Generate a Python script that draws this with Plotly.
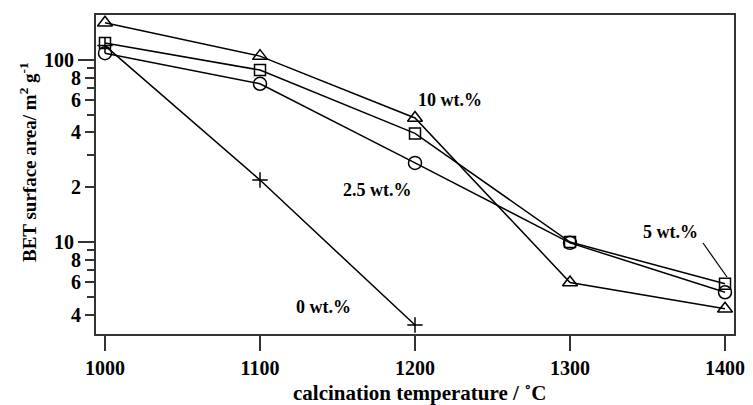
import plotly.graph_objects as go
import math

temps = [1000, 1100, 1200, 1300, 1400]
wt10 = [160, 105, 48, 6.0, 4.3]
wt5 = [124, 88, 39.5, 10.0, 5.9]
wt25 = [109, 74, 27.2, 9.9, 5.3]
temps0 = [1000, 1100, 1200]
wt0 = [120, 21.9, 3.5]

major_vals = [10, 100]
label_vals = [4, 6, 8, 20, 40, 60, 80]
label_text = ["4", "6", "8", "2", "4", "6", "8"]
minor_vals = [5, 7, 9, 30, 50, 70, 90]
x_ticks = [1000, 1100, 1200, 1300, 1400]

FONT = "Liberation Serif"
fig = go.Figure()

def add(x, y, sym, size, name):
    fig.add_trace(go.Scatter(
        x=x, y=y, mode="lines+markers", name=name,
        line=dict(color="black", width=1.5),
        marker=dict(symbol=sym, size=size, color="black",
                    line=dict(color="black", width=1.5)),
        showlegend=False))

add(temps, wt10, "triangle-up-open", 13, "10 wt.%")
add(temps, wt5, "square-open", 11, "5 wt.%")
add(temps, wt25, "circle-open", 13, "2.5 wt.%")
add(temps0, wt0, "cross-thin-open", 11, "0 wt.%")

# page has an 8px body margin; compensate
OFF = 8
FW, FH = 753 - OFF, 405 - OFF
L, R, T, B = 96 - OFF, 19, 15 - OFF, 71
PW = FW - L - R
PH = FH - T - B

yr = [0.495, 2.247]
tickfont = dict(family=FONT, size=20, color="black", weight="bold")

fig.update_layout(
    width=FW, height=FH,
    margin=dict(l=L, r=R, t=T, b=B, autoexpand=False),
    paper_bgcolor="white", plot_bgcolor="white",
    xaxis=dict(range=[994.2, 1405.8], tickvals=x_ticks,
               ticks="outside", ticklen=15, tickwidth=2, tickcolor="#333",
               showline=True, linecolor="#333", linewidth=2, mirror=True,
               showgrid=False, zeroline=False, tickfont=tickfont),
    yaxis=dict(type="log", range=yr, tickvals=major_vals,
               ticktext=["10", "100"],
               ticks="outside", ticklen=16, tickwidth=2, tickcolor="#333",
               showline=True, linecolor="#333", linewidth=2, mirror=True,
               showgrid=False, zeroline=False, tickfont=tickfont),
    yaxis2=dict(type="log", range=yr, overlaying="y", side="left",
                tickvals=label_vals, ticktext=label_text,
                ticks="outside", ticklen=10, tickwidth=2, tickcolor="#333",
                showline=False, showgrid=False, zeroline=False,
                tickfont=tickfont,
                minor=dict(tickvals=minor_vals, ticks="outside", ticklen=8,
                           tickwidth=2, tickcolor="#333", showgrid=False)),
)
fig.add_trace(go.Scatter(x=[1000], y=[10], yaxis="y2", mode="markers",
                         marker=dict(opacity=0), showlegend=False,
                         hoverinfo="skip"))

# leader line for "5 wt.%" in paper coordinates
fig.add_shape(type="line", xref="paper", yref="paper",
              x0=(703 - 96) / PW, y0=(334 - 243) / PH,
              x1=(727 - 96) / PW, y1=(334 - 277) / PH,
              line=dict(color="black", width=1.2))

afont = dict(family=FONT, size=18, color="black", weight="bold")
fig.add_annotation(x=1200.6, y=math.log10(60.3), text="10 wt.%", showarrow=False,
                   font=afont, xanchor="left")
fig.add_annotation(x=1152, y=math.log10(19.3), text="2.5 wt.%", showarrow=False,
                   font=afont, xanchor="left")
fig.add_annotation(x=1346, y=math.log10(11.35), text="5 wt.%", showarrow=False,
                   font=afont, xanchor="left")
fig.add_annotation(x=1122, y=math.log10(4.4), text="0 wt.%", showarrow=False,
                   font=afont, xanchor="left")

fig.add_annotation(x=(419 - 96) / PW, y=(334 - 393) / PH, xref="paper", yref="paper",
                   text="calcination temperature / ˚C", showarrow=False,
                   font=dict(family=FONT, size=21, color="black", weight="bold"),
                   xanchor="center", yanchor="middle")
fig.add_annotation(x=(28 - 96) / PW, y=(334 - 162) / PH, xref="paper", yref="paper",
                   text="BET surface area/ m<sup>2</sup> g<sup>-1</sup>",
                   textangle=-90, showarrow=False,
                   font=dict(family=FONT, size=19, color="black", weight="bold"),
                   xanchor="center", yanchor="middle")

fig.write_html("out.html")
